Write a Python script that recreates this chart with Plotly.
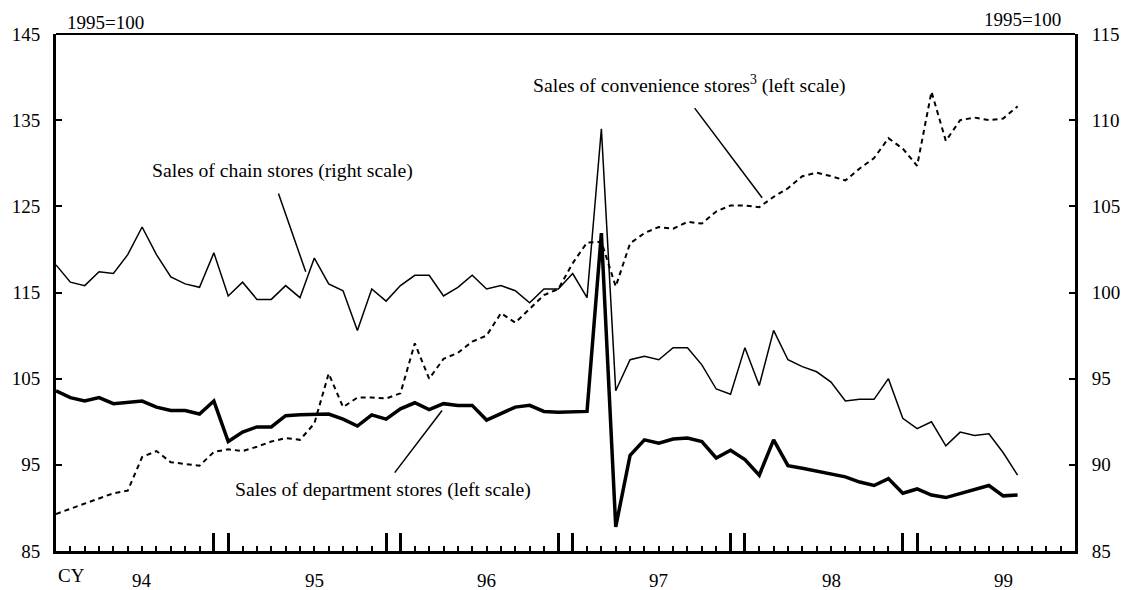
import plotly.graph_objects as go

# months since Jan 1994 (index 0) ... Aug 1999 (index 67)
months = list(range(68))

# chain stores, right scale (1995=100)
chain_stores = [
    101.6, 100.6, 100.4, 101.2, 101.1, 102.2, 103.8, 102.2, 100.9, 100.5, 100.3, 102.3,
    99.8, 100.6, 99.6, 99.6, 100.4, 99.7, 102.0, 100.5, 100.1, 97.8, 100.2, 99.5,
    100.4, 101.0, 101.0, 99.8, 100.3, 101.0, 100.2, 100.4, 100.1, 99.4, 100.2, 100.2,
    101.1, 99.7, 109.5, 94.3, 96.1, 96.3, 96.1, 96.8, 96.8, 95.8, 94.4, 94.1,
    96.8, 94.6, 97.8, 96.1, 95.7, 95.4, 94.8, 93.7, 93.8, 93.8, 95.0, 92.7,
    92.1, 92.5, 91.1, 91.9, 91.7, 91.8, 90.7, 89.4,
]

# department stores, left scale
dept_stores = [
    103.6, 102.8, 102.4, 102.8, 102.1, 102.3, 102.4, 101.7, 101.3, 101.3, 100.9, 102.4,
    97.7, 98.8, 99.4, 99.4, 100.7, 100.8, 100.8, 100.9, 100.3, 99.5, 100.8, 100.3,
    101.5, 102.2, 101.4, 102.1, 101.9, 101.9, 100.2, 100.9, 101.7, 101.9, 101.2, 101.1,
    101.1, 101.2, 121.9, 87.8, 96.1, 97.9, 97.5, 98.0, 98.1, 97.7, 95.8, 96.7,
    95.6, 93.8, 97.9, 94.9, 94.6, 94.3, 93.9, 93.6, 93.0, 92.6, 93.4, 91.7,
    92.2, 91.5, 91.2, 91.7, 92.2, 92.6, 91.4, 91.5,
]

# convenience stores, left scale
conv_stores = [
    89.3, 89.9, 90.5, 91.1, 91.7, 92.0, 95.9, 96.6, 95.3, 95.1, 94.9, 96.5,
    96.8, 96.6, 97.1, 97.7, 98.1, 97.9, 99.8, 105.6, 101.7, 102.8, 102.8, 102.7,
    103.3, 109.1, 105.0, 107.3, 108.0, 109.3, 110.0, 112.6, 111.5, 113.1, 114.7, 115.4,
    118.4, 120.8, 120.9, 115.7, 120.7, 121.9, 122.6, 122.4, 123.2, 123.0, 124.4, 125.1,
    125.1, 124.9, 126.1, 127.1, 128.5, 128.9, 128.5, 128.0, 129.4, 130.6, 132.9, 131.7,
    129.7, 138.3, 132.6, 135.0, 135.3, 135.0, 135.2, 136.6,
]

year_labels = ["94", "95", "96", "97", "98", "99"]
year_pos = [6, 18, 30, 42, 54, 66]
tall_ticks = [0, 11, 12, 23, 24, 35, 36, 47, 48, 59, 60, 71]
left_ticks = [85, 95, 105, 115, 125, 135, 145]
right_ticks = [85, 90, 95, 100, 105, 110, 115]

FONT = "Liberation Serif"

fig = go.Figure()

fig.add_trace(go.Scatter(
    x=months, y=chain_stores, yaxis="y2", mode="lines",
    line=dict(color="black", width=1.5), name="chain"))
fig.add_trace(go.Scatter(
    x=months, y=conv_stores, mode="lines",
    line=dict(color="black", width=2, dash="5px,4px"), name="conv"))
fig.add_trace(go.Scatter(
    x=months, y=dept_stores, mode="lines",
    line=dict(color="black", width=3.5), name="dept"))

# label pointers (data coords, left scale)
pointers = [
    (15.5, 126.5, 17.4, 117.4),
    (44.5, 136.4, 49.2, 126.0),
    (23.6, 94.1, 26.9, 101.3),
]
for x0, y0, x1, y1 in pointers:
    fig.add_shape(type="line", x0=x0, y0=y0, x1=x1, y1=y1, xref="x", yref="y",
                  line=dict(color="black", width=1.5))

# top frame line
fig.add_shape(type="line", x0=0, x1=1, y0=1, y1=1, xref="paper", yref="paper",
              line=dict(color="black", width=2))

ann = [
    dict(x=15.8, y=129.2, text="Sales of chain stores (right scale)", xref="x", yref="y"),
    dict(x=44.1, y=139.1, text="Sales of convenience stores<sup>3</sup> (left scale)",
         xref="x", yref="y"),
    dict(x=22.75, y=92.15, text="Sales of department stores (left scale)", xref="x", yref="y"),
]
for a in ann:
    fig.add_annotation(showarrow=False, font=dict(family=FONT, size=19.7, color="black"), **a)

for lab, pos in zip(year_labels, year_pos):
    fig.add_annotation(x=pos, y=0, xref="x", yref="paper", text=lab, showarrow=False,
                       yanchor="middle", yshift=-29,
                       font=dict(family=FONT, size=19, color="black"))
fig.add_annotation(x=0, y=0, xref="x", yref="paper", text="CY", showarrow=False,
                   xanchor="left", yanchor="middle", yshift=-24,
                   font=dict(family=FONT, size=19, color="black"))
fig.add_annotation(x=0.009, y=1, xref="paper", yref="paper", text="1995=100",
                   showarrow=False, xanchor="left", yanchor="middle", yshift=12,
                   font=dict(family=FONT, size=19, color="black"))
fig.add_annotation(x=0.988, y=1, xref="paper", yref="paper", text="1995=100",
                   showarrow=False, xanchor="right", yanchor="middle", yshift=15,
                   font=dict(family=FONT, size=19, color="black"))

# the page body adds an 8px offset, so the figure is 16px smaller than the window
fig.update_layout(
    width=1120, height=582,
    margin=dict(l=48, r=53, t=26, b=39),
    plot_bgcolor="white", paper_bgcolor="white",
    showlegend=False,
    font=dict(family=FONT, size=19, color="black"),
    xaxis=dict(
        range=[0, 71], showgrid=False, zeroline=False, automargin=False,
        showline=True, linecolor="black", linewidth=3,
        tickmode="array", tickvals=tall_ticks, showticklabels=False,
        ticks="inside", ticklen=18, tickwidth=3, tickcolor="black",
        minor=dict(tickmode="array", tickvals=[m for m in range(72) if m not in tall_ticks],
                   ticks="inside", ticklen=5, tickwidth=2, tickcolor="black"),
    ),
    yaxis=dict(
        range=[85, 145], showgrid=False, zeroline=False, automargin=False,
        showline=True, linecolor="black", linewidth=3,
        tickmode="array", tickvals=left_ticks,
        ticks="inside", ticklen=6, tickwidth=2, tickcolor="black",
        ticklabelstandoff=9,
    ),
    yaxis2=dict(
        range=[85, 115], overlaying="y", side="right", showgrid=False, zeroline=False,
        automargin=False,
        showline=True, linecolor="black", linewidth=3,
        tickmode="array", tickvals=right_ticks,
        ticks="inside", ticklen=6, tickwidth=2, tickcolor="black",
        ticklabelstandoff=10,
    ),
)

fig.write_html("out.html")
